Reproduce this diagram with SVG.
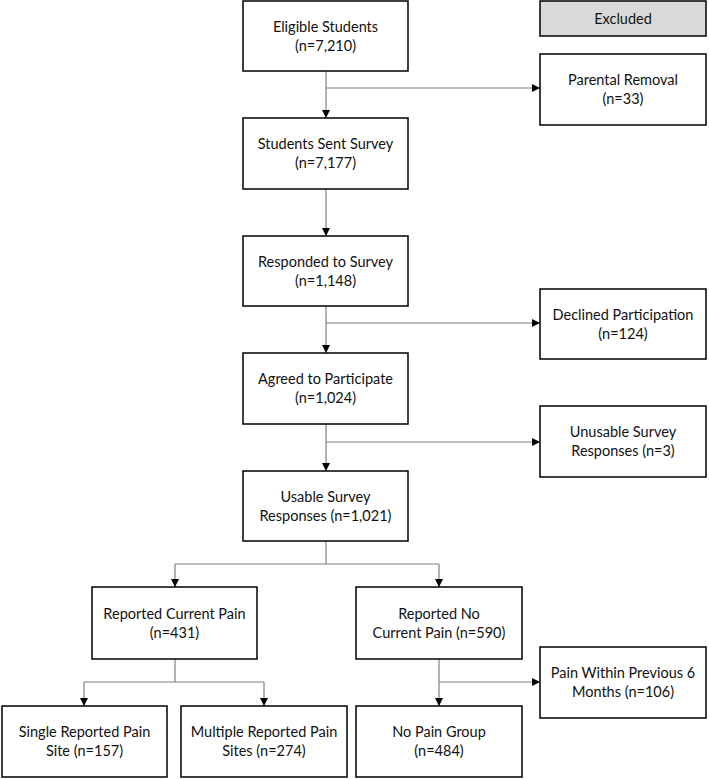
<svg xmlns="http://www.w3.org/2000/svg" width="709" height="779" viewBox="0 0 709 779">
<style>
.box{fill:#fff;stroke:#000;stroke-width:1.5}
.hdr{fill:#d9d9d9;stroke:#000;stroke-width:1.5}
text{font-family:Lato,"Open Sans",sans-serif;font-size:14.5px;fill:#111;text-anchor:middle}
.c{fill:none;stroke:#808080;stroke-width:1.2}
</style>
<defs>
<marker id="ah" markerWidth="8" markerHeight="8" refX="8" refY="4" orient="auto" markerUnits="userSpaceOnUse">
<path d="M0,0 L8,4 L0,8 Z" fill="#000"/>
</marker>
</defs>
<rect width="709" height="779" fill="#fff"/>
<g id="connectors">
<line class="c" x1="326" y1="71" x2="326" y2="118" marker-end="url(#ah)"/>
<line class="c" x1="326" y1="88" x2="540" y2="88" marker-end="url(#ah)"/>
<line class="c" x1="326" y1="189" x2="326" y2="236" marker-end="url(#ah)"/>
<line class="c" x1="326" y1="306" x2="326" y2="353" marker-end="url(#ah)"/>
<line class="c" x1="326" y1="323" x2="540" y2="323" marker-end="url(#ah)"/>
<line class="c" x1="326" y1="424" x2="326" y2="471" marker-end="url(#ah)"/>
<line class="c" x1="326" y1="442" x2="540" y2="442" marker-end="url(#ah)"/>
<polyline class="c" points="326,541 326,564"/>
<polyline class="c" points="175,564 439,564"/>
<line class="c" x1="175" y1="564" x2="175" y2="587" marker-end="url(#ah)"/>
<line class="c" x1="439" y1="564" x2="439" y2="587" marker-end="url(#ah)"/>
<polyline class="c" points="175,659 175,682"/>
<polyline class="c" points="84,682 264,682"/>
<line class="c" x1="84" y1="682" x2="84" y2="706" marker-end="url(#ah)"/>
<line class="c" x1="264" y1="682" x2="264" y2="706" marker-end="url(#ah)"/>
<line class="c" x1="439" y1="659" x2="439" y2="706" marker-end="url(#ah)"/>
<line class="c" x1="439" y1="682" x2="540" y2="682" marker-end="url(#ah)"/>
</g>
<g id="excluded"><rect class="hdr" x="540" y="1" width="166" height="35"/><text x="623" y="24">Excluded</text></g>
<g id="eligible"><rect class="box" x="243" y="1" width="165" height="70"/><text x="325.5" y="32">Eligible Students</text><text x="325.5" y="51">(n=7,210)</text></g>
<g id="parental"><rect class="box" x="540" y="54" width="166" height="71"/><text x="623" y="85">Parental Removal</text><text x="623" y="104">(n=33)</text></g>
<g id="sent"><rect class="box" x="243" y="118" width="165" height="71"/><text x="325.5" y="149">Students Sent Survey</text><text x="325.5" y="168">(n=7,177)</text></g>
<g id="responded"><rect class="box" x="243" y="236" width="165" height="70"/><text x="325.5" y="267">Responded to Survey</text><text x="325.5" y="286">(n=1,148)</text></g>
<g id="declined"><rect class="box" x="540" y="289" width="166" height="70"/><text x="623" y="320">Declined Participation</text><text x="623" y="339">(n=124)</text></g>
<g id="agreed"><rect class="box" x="243" y="353" width="165" height="71"/><text x="325.5" y="384">Agreed to Participate</text><text x="325.5" y="403">(n=1,024)</text></g>
<g id="unusable"><rect class="box" x="540" y="406" width="166" height="71"/><text x="623" y="437">Unusable Survey</text><text x="623" y="456">Responses (n=3)</text></g>
<g id="usable"><rect class="box" x="243" y="471" width="165" height="70"/><text x="325.5" y="502">Usable Survey</text><text x="325.5" y="521">Responses (n=1,021)</text></g>
<g id="current"><rect class="box" x="92" y="587" width="165" height="72"/><text x="174.5" y="619">Reported Current Pain</text><text x="174.5" y="638">(n=431)</text></g>
<g id="nocurrent"><rect class="box" x="356" y="587" width="166" height="72"/><text x="439" y="619">Reported No</text><text x="439" y="638">Current Pain (n=590)</text></g>
<g id="previous"><rect class="box" x="540" y="647" width="166" height="71"/><text x="623" y="678">Pain Within Previous 6</text><text x="623" y="697">Months (n=106)</text></g>
<g id="single"><rect class="box" x="2" y="706" width="165" height="71"/><text x="84.5" y="737">Single Reported Pain</text><text x="84.5" y="756">Site (n=157)</text></g>
<g id="multiple"><rect class="box" x="181" y="706" width="166" height="71"/><text x="264" y="737">Multiple Reported Pain</text><text x="264" y="756">Sites (n=274)</text></g>
<g id="nopain"><rect class="box" x="356" y="706" width="166" height="71"/><text x="439" y="737">No Pain Group</text><text x="439" y="756">(n=484)</text></g>
</svg>
